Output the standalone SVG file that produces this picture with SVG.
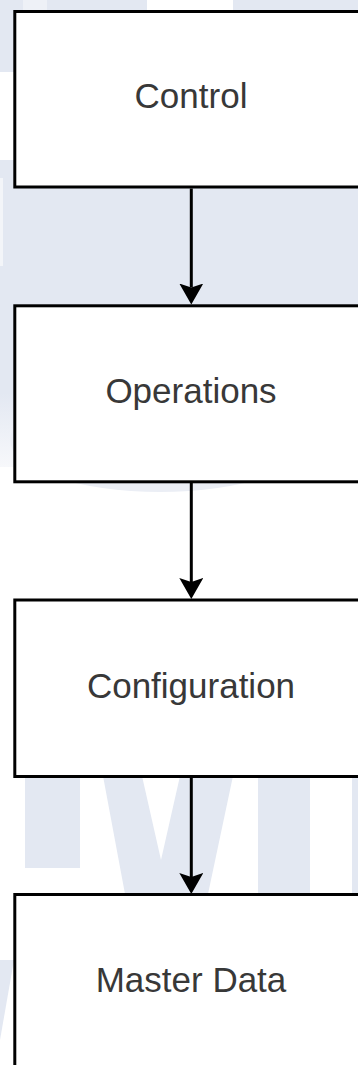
<svg xmlns="http://www.w3.org/2000/svg" width="358" height="1065" viewBox="0 0 358 1065">
  <style>
    .wm { fill: #e3e8f2; }
    .wm-soft { fill: #eef1f7; }
    .box { fill: #ffffff; stroke: #000000; stroke-width: 3; }
    .label { font-family: "Liberation Sans", Arial, sans-serif; font-size: 35px; fill: #383838; text-anchor: middle; }
    .flow { fill: none; stroke: #000000; stroke-width: 3; marker-end: url(#arrow); }
  </style>
  <defs>
    <!-- classic notched arrowhead, tip 17px beyond the line end -->
    <marker id="arrow" viewBox="0 0 21 24" markerWidth="21" markerHeight="24" markerUnits="userSpaceOnUse" refX="4" refY="12" orient="auto">
      <path d="M21,12 L0,0 L4,12 L0,24 Z" fill="#000000"/>
    </marker>
    <linearGradient id="fade" x1="0" y1="0" x2="0" y2="1">
      <stop offset="0" stop-color="#e3e8f2"/>
      <stop offset="1" stop-color="#f7f8fb"/>
    </linearGradient>
  </defs>

  <!-- page background -->
  <rect x="0" y="0" width="358" height="1065" fill="#ffffff"/>

  <!-- background watermark shapes -->
  <g id="watermark">
    <rect class="wm" x="0" y="0" width="147" height="12"/>
    <rect class="wm-soft" x="23" y="0" width="24" height="12"/>
    <rect class="wm" x="233" y="0" width="125" height="12"/>
    <rect class="wm" x="0" y="0" width="15" height="72"/>
    <rect class="wm" x="0" y="160" width="15" height="233"/>
    <rect fill="#f3f5f9" x="0" y="178" width="3" height="88"/>
    <rect fill="url(#fade)" x="0" y="393" width="15" height="74"/>
    <rect class="wm" x="15" y="186" width="343" height="120"/>
    <ellipse fill="#ebeef5" cx="160" cy="440" rx="150" ry="52"/>
    <rect class="wm" x="25" y="767" width="55" height="101"/>
    <polygon class="wm" points="103,776 142,776 161,860 180,776 233,776 208,894 125,894"/>
    <rect class="wm" x="258" y="776" width="52" height="118"/>
    <rect class="wm" x="352" y="776" width="6" height="118"/>
    <polygon class="wm" points="0,960 14,960 0,1040"/>
  </g>

  <!-- connectors -->
  <g id="connectors">
    <path class="flow" d="M191.3,188.5 V287.5"/>
    <path class="flow" d="M191.3,483 V582"/>
    <path class="flow" d="M191.3,778 V877"/>
  </g>

  <g id="node-control">
    <rect class="box" x="14.8" y="11.5" width="352" height="175.5"/>
    <text class="label" x="191" y="108.3">Control</text>
  </g>

  <g id="node-operations">
    <rect class="box" x="14.8" y="305.8" width="352" height="176"/>
    <text class="label" x="191" y="403.3">Operations</text>
  </g>

  <g id="node-configuration">
    <rect class="box" x="14.8" y="600" width="352" height="176.5"/>
    <text class="label" x="191" y="698">Configuration</text>
  </g>

  <g id="node-master-data">
    <rect class="box" x="14.8" y="894.5" width="352" height="180"/>
    <text class="label" x="191" y="992">Master Data</text>
  </g>
</svg>
